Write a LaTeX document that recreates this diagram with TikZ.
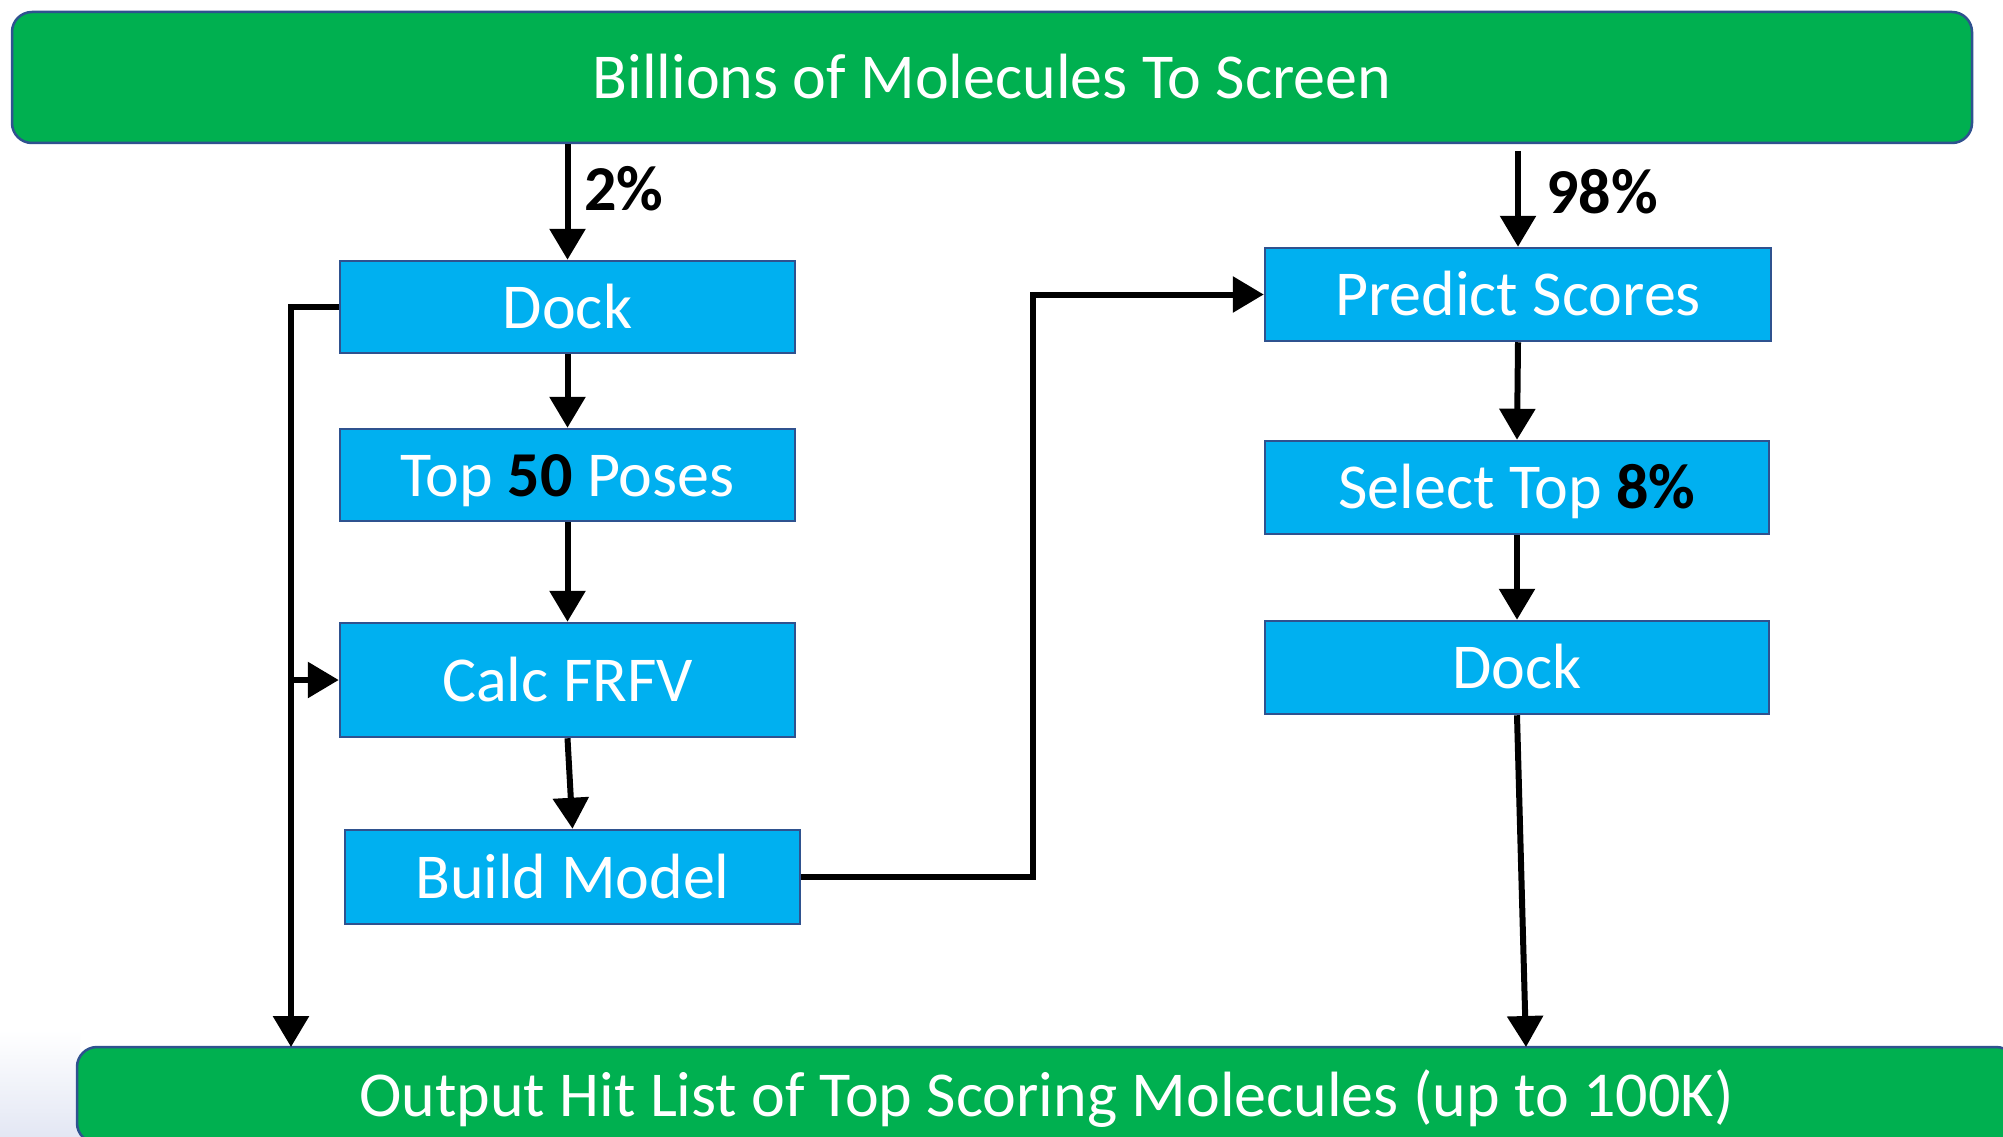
\documentclass[tikz,border=0pt]{standalone}
\usepackage{fontspec}
\setmainfont{Carlito}
\usetikzlibrary{arrows.meta,calc}
\definecolor{grn}{HTML}{00B050}
\definecolor{blu}{HTML}{00B0F0}
\definecolor{edgeblue}{HTML}{2F528F}
\definecolor{lav}{HTML}{E3E7F4}
\begin{document}
\begin{tikzpicture}[x=1pt,y=-1pt,
  big/.style={font=\fontsize{64}{76}\selectfont},
  box/.style={big, draw=edgeblue, line width=2.5pt, fill=blu, text=white, inner sep=0pt, text height=42pt, text depth=0pt},
  bar/.style={big, draw=edgeblue, line width=2.5pt, fill=grn, text=white, inner sep=0pt, rounded corners=20pt, text height=42pt, text depth=0pt},
  arr/.style={line width=6pt, -{Triangle[length=31pt,width=35pt]}},
  pct/.style={font=\bfseries\fontsize{64}{76}\selectfont, anchor=west, inner sep=0pt}]
\useasboundingbox (0,0) rectangle (2003,1137);
\fill[white] (0,0) rectangle (2003,1137);
\shade[top color=white, bottom color=lav] (0,1030) rectangle (80,1137);

% top bar
\node[bar, minimum width=1960pt, minimum height=131pt] (top) at (992,77.5) {Billions of Molecules To Screen};

% left column
\node[box, minimum width=455pt, minimum height=92pt] (dockA) at (567.5,307) {Dock};
\node[box, minimum width=455pt, minimum height=92pt] (top50) at (567.5,475) {Top {\bfseries\color{black}50} Poses};
\node[box, minimum width=455pt, minimum height=114pt] (calc) at (567.5,680) {Calc FRFV};
\node[box, minimum width=455pt, minimum height=94pt] (build) at (572.5,877) {Build Model};

% right column
\node[box, minimum width=506pt, minimum height=93pt] (pred) at (1518,294.5) {Predict Scores};
\node[box, minimum width=504pt, minimum height=93pt] (sel) at (1517,487.5) {Select Top {\bfseries\color{black}8\%}};
\node[box, minimum width=504pt, minimum height=93pt] (dockB) at (1517,667.5) {Dock};

% output bar (cut by the page edge)
\begin{scope}
\clip (0,0) rectangle (2003,1137);
\node[bar, minimum width=1939pt, minimum height=96pt] (out) at (1046.5,1095) {Output Hit List of Top Scoring Molecules (up to 100K)};
\end{scope}

% coordinates
\coordinate (s98) at (1518,151);
\coordinate (o1) at (291,1047);
\coordinate (o2) at (1526,1047);

% labels
\node[pct] (p2) at (584,189) {2\%};
\node[pct] (p98) at (1546,192) {98\%};

% connectors
\draw[arr] (top.south -| dockA.north) -- (dockA.north);
\draw[arr] (dockA.south) -- (top50.north);
\draw[arr] (top50.south) -- (calc.north);
\draw[arr] (calc.south) -- (build.north);
\draw[arr] (dockA.west) -| (o1);
\draw[arr] (calc.west -| o1) -- (calc.west);
\draw[arr] (build.east) -- ++(232,0) |- (pred.west);
\draw[arr] (s98) -- (pred.north);
\draw[arr] (pred.south) -- (sel.north);
\draw[arr] (sel.south) -- (dockB.north);
\draw[arr] (dockB.south) -- (o2);
\end{tikzpicture}
\end{document}
